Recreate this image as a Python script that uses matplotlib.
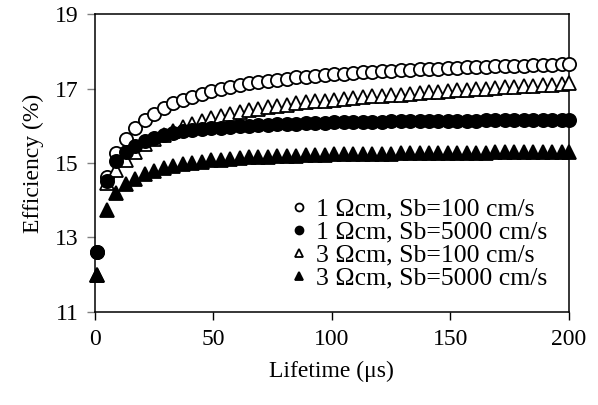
import matplotlib
matplotlib.use('Agg')
import matplotlib.pyplot as plt

# lifetime (us)
lifetime = [1, 5, 9, 13, 17, 21, 25, 29, 33, 37, 41, 45, 49, 53, 57, 61, 65, 69, 73, 77,
            81, 85, 89, 93, 97, 101, 105, 109, 113, 117, 121, 125, 129, 133, 137, 141,
            145, 149, 153, 157, 161, 165, 169, 173, 177, 181, 185, 189, 193, 197, 200]

# efficiency (%) for each case
eff_1_100 = [12.6, 14.62, 15.28, 15.64, 15.93, 16.15, 16.33, 16.47, 16.6, 16.69, 16.78,
             16.86, 16.93, 17.0, 17.05, 17.1, 17.14, 17.18, 17.21, 17.24, 17.27, 17.3,
             17.32, 17.34, 17.36, 17.38, 17.4, 17.42, 17.44, 17.45, 17.47, 17.48, 17.49,
             17.5, 17.52, 17.53, 17.54, 17.55, 17.56, 17.57, 17.58, 17.59, 17.6, 17.61,
             17.61, 17.62, 17.63, 17.63, 17.64, 17.65, 17.66]
eff_1_5000 = [12.6, 14.52, 15.05, 15.3, 15.47, 15.59, 15.68, 15.75, 15.8, 15.85, 15.88,
              15.91, 15.93, 15.95, 15.97, 15.99, 16.0, 16.02, 16.03, 16.04, 16.05, 16.06,
              16.07, 16.07, 16.08, 16.09, 16.09, 16.1, 16.1, 16.11, 16.11, 16.12, 16.12,
              16.12, 16.13, 16.13, 16.13, 16.14, 16.14, 16.14, 16.14, 16.15, 16.15, 16.15,
              16.15, 16.15, 16.16, 16.16, 16.16, 16.16, 16.16]
eff_3_100 = [12.0, 14.45, 14.82, 15.07, 15.3, 15.5, 15.64, 15.76, 15.87, 15.96, 16.05,
             16.13, 16.2, 16.26, 16.32, 16.37, 16.42, 16.46, 16.5, 16.54, 16.57, 16.6,
             16.63, 16.66, 16.68, 16.7, 16.73, 16.75, 16.77, 16.79, 16.8, 16.82, 16.84,
             16.86, 16.88, 16.9, 16.92, 16.94, 16.96, 16.97, 16.99, 17.0, 17.02, 17.03,
             17.05, 17.06, 17.08, 17.09, 17.11, 17.13, 17.14]
eff_3_5000 = [12.0, 13.75, 14.2, 14.43, 14.58, 14.7, 14.79, 14.86, 14.92, 14.97, 15.01,
              15.04, 15.07, 15.09, 15.11, 15.13, 15.15, 15.16, 15.17, 15.18, 15.19, 15.2,
              15.21, 15.21, 15.22, 15.23, 15.23, 15.24, 15.24, 15.25, 15.25, 15.25, 15.26,
              15.26, 15.26, 15.27, 15.27, 15.27, 15.28, 15.28, 15.28, 15.28, 15.29, 15.29,
              15.29, 15.29, 15.3, 15.3, 15.3, 15.3, 15.3]

labels = ['1 \u03a9cm, Sb=100 cm/s', '1 \u03a9cm, Sb=5000 cm/s',
          '3 \u03a9cm, Sb=100 cm/s', '3 \u03a9cm, Sb=5000 cm/s']

plt.rcParams['font.family'] = ['Liberation Serif', 'DejaVu Serif']

fig = plt.figure(figsize=(5.98, 4.05), dpi=100)
ax = fig.add_axes([0.159, 0.230, 0.792, 0.735])

h1, = ax.plot(lifetime, eff_1_100, 'o', ms=9.5, mfc='white', mec='black', mew=1.3,
              clip_on=False, zorder=3, label=labels[0])
h3, = ax.plot(lifetime, eff_3_100, '^', ms=10, mfc='white', mec='black', mew=1.3,
              clip_on=False, zorder=4, label=labels[2])
h2, = ax.plot(lifetime, eff_1_5000, 'o', ms=9.5, mfc='black', mec='black', mew=1.3,
              clip_on=False, zorder=5, label=labels[1])
h4, = ax.plot(lifetime, eff_3_5000, '^', ms=10, mfc='black', mec='black', mew=1.3,
              clip_on=False, zorder=6, label=labels[3])

ax.set_xlim(0, 200)
ax.set_ylim(11, 19)
ax.set_xticks([0, 50, 100, 150, 200])
ax.set_yticks([11, 13, 15, 17, 19])
ax.tick_params(direction='out', length=6, width=1, labelsize=17, pad=6)
ax.tick_params(axis='y', color='#808080')
for s in ax.spines.values():
    s.set_linewidth(1.1)

ax.set_xlabel('Lifetime (\u03bcs)', fontsize=17, labelpad=8)
ax.set_ylabel('Efficiency (%)', fontsize=17, labelpad=8)

ax.legend(handles=[h1, h2, h3, h4], loc='lower right', bbox_to_anchor=(0.955, 0.075),
          frameon=False, fontsize=18.5, markerscale=0.6, handlelength=0.6,
          handletextpad=0.35, labelspacing=0.0, borderpad=0, borderaxespad=0)

fig.savefig('out.png', dpi=100)
